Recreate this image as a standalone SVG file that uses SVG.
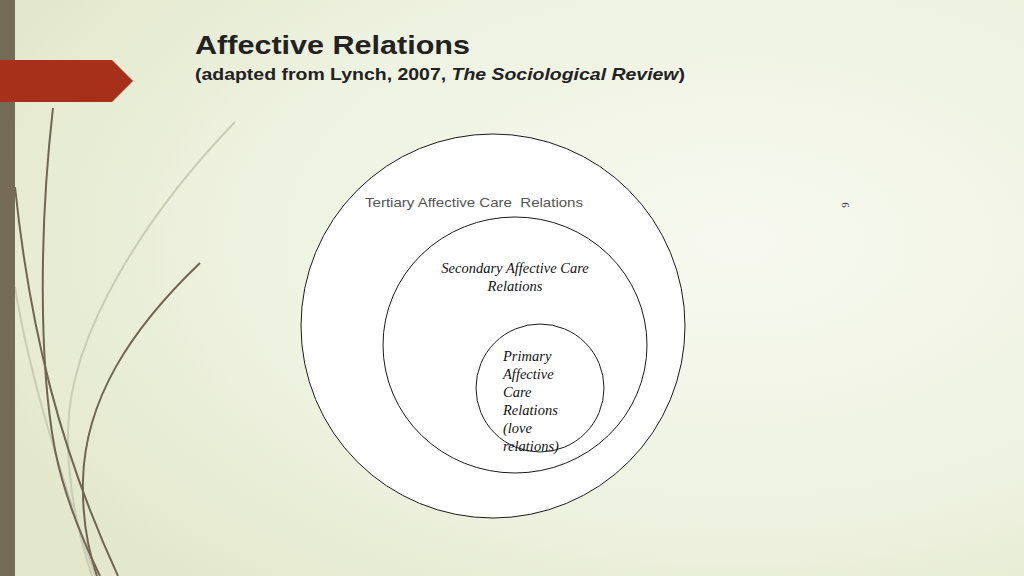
<svg xmlns="http://www.w3.org/2000/svg" width="1024" height="576" viewBox="0 0 1024 576">
<defs>
<radialGradient id="bg" cx="0.72" cy="0.42" r="0.8">
<stop offset="0" stop-color="#f7f9f0"/>
<stop offset="0.6" stop-color="#eef2e0"/>
<stop offset="1" stop-color="#e3e8cc"/>
</radialGradient>
<style>
.ring{fill:#ffffff;stroke:#1a1a1a;stroke-width:1}
.ser{font-family:"Liberation Serif","Times New Roman",serif;font-style:italic;font-size:14.5px;fill:#111}
.dk{fill:none;stroke:#6e6651;stroke-width:2}
.lt{fill:none;stroke:#c9cdb6;stroke-width:2}
</style>
</defs>
<rect width="1024" height="576" fill="url(#bg)"/>
<g id="decor">
<path class="lt" d="M235,122 C150,210 70,330 68,430 C67,490 80,540 92,576"/>
<path class="lt" d="M15,287 C30,380 60,470 95,576"/>
<path class="dk" d="M53,108 C40,220 38,360 55,450 C65,500 85,545 100,576"/>
<path class="dk" d="M15,187 C30,330 60,450 118,576"/>
<path class="dk" d="M200,263 C130,330 85,400 83,480 C82,520 88,550 97,576"/>
<rect x="0" y="0" width="15" height="576" fill="#756b57"/>
<polygon points="0,60 112,60 133,81 112,102 0,102" fill="#a7301a"/>
</g>
<g id="title" font-family="'Liberation Sans',Arial,sans-serif" font-weight="bold" fill="#222">
<text x="195" y="54" font-size="26" textLength="275" lengthAdjust="spacingAndGlyphs">Affective Relations</text>
<text x="195" y="80" font-size="17" textLength="490" lengthAdjust="spacingAndGlyphs">(adapted from Lynch, 2007, <tspan font-style="italic">The Sociological Review</tspan>)</text>
</g>
<g id="tertiary">
<circle class="ring" cx="493" cy="326" r="192"/>
<text x="365" y="207" font-family="'Liberation Sans',Arial,sans-serif" font-size="13" fill="#555" textLength="218" lengthAdjust="spacingAndGlyphs">Tertiary Affective Care&#160; Relations</text>
</g>
<g id="secondary">
<ellipse class="ring" cx="515" cy="345" rx="132" ry="128"/>
<text class="ser" x="515" y="273" text-anchor="middle">Secondary Affective Care</text>
<text class="ser" x="515" y="291" text-anchor="middle">Relations</text>
</g>
<g id="primary">
<circle class="ring" cx="540" cy="388" r="64"/>
<text class="ser" x="503" y="361">Primary</text>
<text class="ser" x="503" y="379">Affective</text>
<text class="ser" x="503" y="397">Care</text>
<text class="ser" x="503" y="415">Relations</text>
<text class="ser" x="503" y="433">(love</text>
<text class="ser" x="503" y="451">relations)</text>
</g>
<g id="connectors"></g>
<text x="846" y="205" font-family="'Liberation Serif',serif" font-size="11" fill="#333" text-anchor="middle" dominant-baseline="middle" transform="rotate(-90 846 205)">9</text>
</svg>
